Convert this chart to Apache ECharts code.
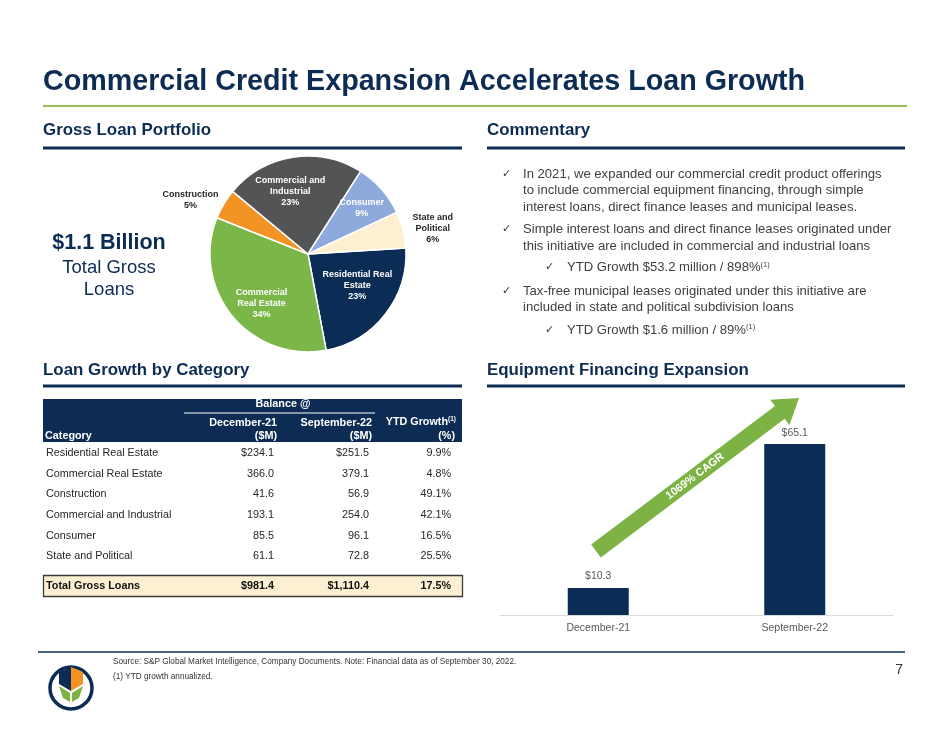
<!DOCTYPE html>
<html><head><meta charset="utf-8">
<script src="https://cdn.jsdelivr.net/npm/echarts/dist/echarts.min.js"></script>
<style>html,body{margin:0;padding:0;background:#fff}#main{width:950px;height:734px}</style>
</head><body><div id="main"></div>
<script>
// ---------- DATA ----------
const pieNames = ['Residential Real\nEstate', 'Commercial\nReal Estate', 'Construction', 'Commercial and\nIndustrial', 'Consumer', 'State and\nPolitical'];
const piePct = [23, 34, 5, 23, 9, 6];

const tableCategories = ['Residential Real Estate', 'Commercial Real Estate', 'Construction', 'Commercial and Industrial', 'Consumer', 'State and Political'];
const dec21 = [234.1, 366.0, 41.6, 193.1, 85.5, 61.1];
const sep22 = [251.5, 379.1, 56.9, 254.0, 96.1, 72.8];
const ytdGrowth = [9.9, 4.8, 49.1, 42.1, 16.5, 25.5];
const totalLabel = 'Total Gross Loans';
const totals = [981.4, 1110.4, 17.5];

const barCategories = ['December-21', 'September-22'];
const barValues = [10.3, 65.1];
const cagrLabel = '1069% CAGR';

const commentary = [
  { level: 0, lines: ['In 2021, we expanded our commercial credit product offerings', 'to include commercial equipment financing, through simple', 'interest loans, direct finance leases and municipal leases.'] },
  { level: 0, lines: ['Simple interest loans and direct finance leases originated under', 'this initiative are included in commercial and industrial loans'] },
  { level: 1, lines: ['YTD Growth $53.2 million / 898%{sup|(1)}'] },
  { level: 0, lines: ['Tax-free municipal leases originated under this initiative are', 'included in state and political subdivision loans'] },
  { level: 1, lines: ['YTD Growth $1.6 million / 89%{sup|(1)}'] }
];

// ---------- STYLE ----------
const NAVY = '#0d2c54';
const GREEN = '#7db344';
const FONT = '"Liberation Sans", Arial, sans-serif';
const pieColors = ['#0b2c55', '#7ab648', '#f39325', '#525456', '#8eaadc', '#fdefd0'];
const pieLabelColors = ['#fff', '#fff', '#262626', '#fff', '#fff', '#262626'];
const pieCenter = [308, 254], pieR = 98;
const labelDist = [0.60, 0.69, 1.32, 0.66, 0.72, 1.30];
const labelAngOff = [5, 7, 6, 7, -1, -2.6];
const START = 3.5;

const g = [];
function txt(x, y, text, font, fill, align, extra) {
  g.push(Object.assign({ type: 'text', x: x, y: y, silent: true,
    style: { text: text, font: font, fill: fill, align: align || 'left', verticalAlign: 'middle' } }, extra || {}));
}
function line(x1, y1, x2, y2, stroke, w) {
  g.push({ type: 'line', silent: true, shape: { x1: x1, y1: y1, x2: x2, y2: y2 }, style: { stroke: stroke, lineWidth: w } });
}

// Title
txt(43, 82, 'Commercial Credit Expansion Accelerates Loan Growth', 'bold 28.7px ' + FONT, NAVY);
line(43, 106, 907, 106, '#9bbb59', 2);

// Section headers
const SH = 'bold 16.9px ' + FONT;
txt(43, 130, 'Gross Loan Portfolio', SH, NAVY);
txt(487, 130, 'Commentary', SH, NAVY);
line(43, 148, 462, 148, NAVY, 3);
line(487, 148, 905, 148, NAVY, 3);
txt(43, 370, 'Loan Growth by Category', SH, NAVY);
txt(487, 370, 'Equipment Financing Expansion', SH, NAVY);
line(43, 386, 462, 386, NAVY, 3);
line(487, 386, 905, 386, NAVY, 3);

// Total label beside pie
txt(109, 243, '$1.1 Billion', 'bold 21.5px ' + FONT, NAVY, 'center');
txt(109, 268, 'Total Gross', '18.5px ' + FONT, NAVY, 'center');
txt(109, 290, 'Loans', '18.5px ' + FONT, NAVY, 'center');

// Commentary
(function () {
  const starts = [174, 229.5, 267.5, 291, 330];
  const rich = { sup: { fontSize: 7.5, fill: '#404040', verticalAlign: 'top', padding: [0, 0, 6, 0] } };
  commentary.forEach(function (b, bi) {
    const cx = b.level === 0 ? 502 : 545;
    const tx = b.level === 0 ? 523 : 567;
    txt(cx, starts[bi], '\u2713', '11px "DejaVu Sans"', '#333', 'left');
    b.lines.forEach(function (l, li) {
      g.push({ type: 'text', x: tx, y: starts[bi] + li * 16.5, silent: true,
        style: { text: l, font: '13.1px ' + FONT, fill: '#404040', verticalAlign: 'middle', rich: rich } });
    });
  });
})();

// Table
(function () {
  g.push({ type: 'rect', silent: true, shape: { x: 43, y: 399, width: 419, height: 43 }, style: { fill: NAVY } });
  const hf = 'bold 10.8px ' + FONT;
  txt(283, 404, 'Balance @', hf, '#fff', 'center');
  line(184, 413, 375, 413, '#fff', 1);
  txt(277, 423, 'December-21', hf, '#fff', 'right');
  txt(277, 436, '($M)', hf, '#fff', 'right');
  txt(372, 423, 'September-22', hf, '#fff', 'right');
  txt(372, 436, '($M)', hf, '#fff', 'right');
  g.push({ type: 'text', x: 456, y: 422, silent: true,
    style: { text: 'YTD Growth{sup|(1)}', font: hf, fill: '#fff', align: 'right', verticalAlign: 'middle',
      rich: { sup: { fontSize: 6.5, fontWeight: 'bold', fill: '#fff', verticalAlign: 'top', padding: [0, 0, 5, 0] } } } });
  txt(455, 436, '(%)', hf, '#fff', 'right');
  txt(45, 436, 'Category', hf, '#fff', 'left');
  const rf = '10.8px ' + FONT;
  tableCategories.forEach(function (c, i) {
    const y = 453 + i * 20.7;
    txt(46, y, c, rf, '#262626', 'left');
    txt(274, y, (i === 0 ? '$' : '') + dec21[i].toFixed(1), rf, '#262626', 'right');
    txt(369, y, (i === 0 ? '$' : '') + sep22[i].toFixed(1), rf, '#262626', 'right');
    txt(451, y, ytdGrowth[i].toFixed(1) + '%', rf, '#262626', 'right');
  });
  g.push({ type: 'rect', silent: true, shape: { x: 43.5, y: 575.5, width: 419, height: 21 }, style: { fill: '#fdf0d2', stroke: '#3a3a3a', lineWidth: 1.3 } });
  const tf = 'bold 10.8px ' + FONT;
  txt(46, 586, totalLabel, tf, '#111', 'left');
  txt(274, 586, '$' + totals[0].toFixed(1), tf, '#111', 'right');
  txt(369, 586, '$' + totals[1].toLocaleString('en-US', { minimumFractionDigits: 1 }), tf, '#111', 'right');
  txt(451, 586, totals[2].toFixed(1) + '%', tf, '#111', 'right');
})();

// Arrow
(function () {
  const T = [596, 551], P = [799, 398];
  const dx = P[0] - T[0], dy = P[1] - T[1], L = Math.hypot(dx, dy);
  const u = [dx / L, dy / L], n = [-u[1], u[0]];
  const hw = 8, hh = 16, hl = 24;
  const B = [P[0] - hl * u[0], P[1] - hl * u[1]];
  const pt = (b, k) => [b[0] + k * n[0], b[1] + k * n[1]];
  g.push({ type: 'polygon', silent: true, shape: { points: [pt(T, hw), pt(B, hw), pt(B, hh), P, pt(B, -hh), pt(B, -hw), pt(T, -hw)] }, style: { fill: GREEN } });
  const ang = Math.atan2(-dy, dx);
  const t = 124;
  g.push({ type: 'text', x: T[0] + t * u[0], y: T[1] + t * u[1], rotation: ang, silent: true,
    style: { text: cagrLabel, font: 'bold 11px ' + FONT, fill: '#fff', align: 'center', verticalAlign: 'middle' } });
})();

// Footer
line(38, 652, 905, 652, NAVY, 1.5);
txt(113, 662, 'Source: S&P Global Market Intelligence, Company Documents. Note: Financial data as of September 30, 2022.', '8.2px ' + FONT, '#333');
txt(113, 677, '(1) YTD growth annualized.', '8.2px ' + FONT, '#333');
txt(903, 670, '7', '14px ' + FONT, '#333', 'right');

// Logo
g.push({ type: 'circle', silent: true, shape: { cx: 71, cy: 688, r: 21 }, style: { fill: '#fff', stroke: NAVY, lineWidth: 3.5 } });
g.push({ type: 'polygon', silent: true, shape: { points: [[59, 672], [71, 667], [71, 691], [59, 684]] }, style: { fill: NAVY } });
g.push({ type: 'polygon', silent: true, shape: { points: [[71, 667], [83, 672], [83, 684], [71, 691]] }, style: { fill: '#f39325' } });
g.push({ type: 'polygon', silent: true, shape: { points: [[59, 686], [70, 693], [70, 702], [63, 698]] }, style: { fill: GREEN } });
g.push({ type: 'polygon', silent: true, shape: { points: [[83, 686], [72, 693], [72, 702], [79, 698]] }, style: { fill: GREEN } });

// ---------- CHART ----------
const cum = [];
piePct.reduce(function (a, v, i) { cum[i] = a; return a + v; }, 0);

const option = {
  animation: false,
  backgroundColor: '#fff',
  textStyle: { fontFamily: FONT },
  grid: { left: 500, right: 57, top: 405, bottom: 119 },
  xAxis: {
    type: 'category', data: barCategories,
    axisLine: { lineStyle: { color: '#d9d9d9', width: 1 } },
    axisTick: { show: false },
    axisLabel: { color: '#595959', fontSize: 10.5, margin: 8, fontFamily: FONT }
  },
  yAxis: { type: 'value', min: 0, max: 80, show: false, splitLine: { show: false } },
  series: [
    {
      type: 'bar', data: barValues, barWidth: 61, silent: true,
      itemStyle: { color: '#0b2c55' },
      label: { show: true, position: 'top', distance: 6, color: '#595959', fontSize: 10.5, fontFamily: FONT, formatter: function (p) { return '$' + p.value.toFixed(1); } }
    },
    {
      type: 'pie', center: pieCenter, radius: pieR, startAngle: START, clockwise: true, silent: true,
      avoidLabelOverlap: false,
      data: pieNames.map(function (n, i) {
        return { name: n, value: piePct[i], itemStyle: { color: pieColors[i] }, label: { color: pieLabelColors[i] } };
      }),
      itemStyle: { borderColor: '#fff', borderWidth: 1.5 },
      label: { show: true, position: 'inside', fontSize: 9, fontWeight: 'bold', lineHeight: 11, fontFamily: FONT,
        formatter: function (p) { return p.name + '\n' + p.value + '%'; } },
      labelLine: { show: false },
      labelLayout: function (p) {
        const i = p.dataIndex;
        const mid = START - (cum[i] + piePct[i] / 2) * 3.6 + labelAngOff[i];
        const r = mid * Math.PI / 180;
        return { x: pieCenter[0] + labelDist[i] * pieR * Math.cos(r), y: pieCenter[1] - labelDist[i] * pieR * Math.sin(r), align: 'center', verticalAlign: 'middle' };
      }
    }
  ],
  graphic: { elements: g }
};

const chart = echarts.init(document.getElementById('main'), null, { renderer: 'canvas' });
chart.setOption(option);
</script>
</body></html>
